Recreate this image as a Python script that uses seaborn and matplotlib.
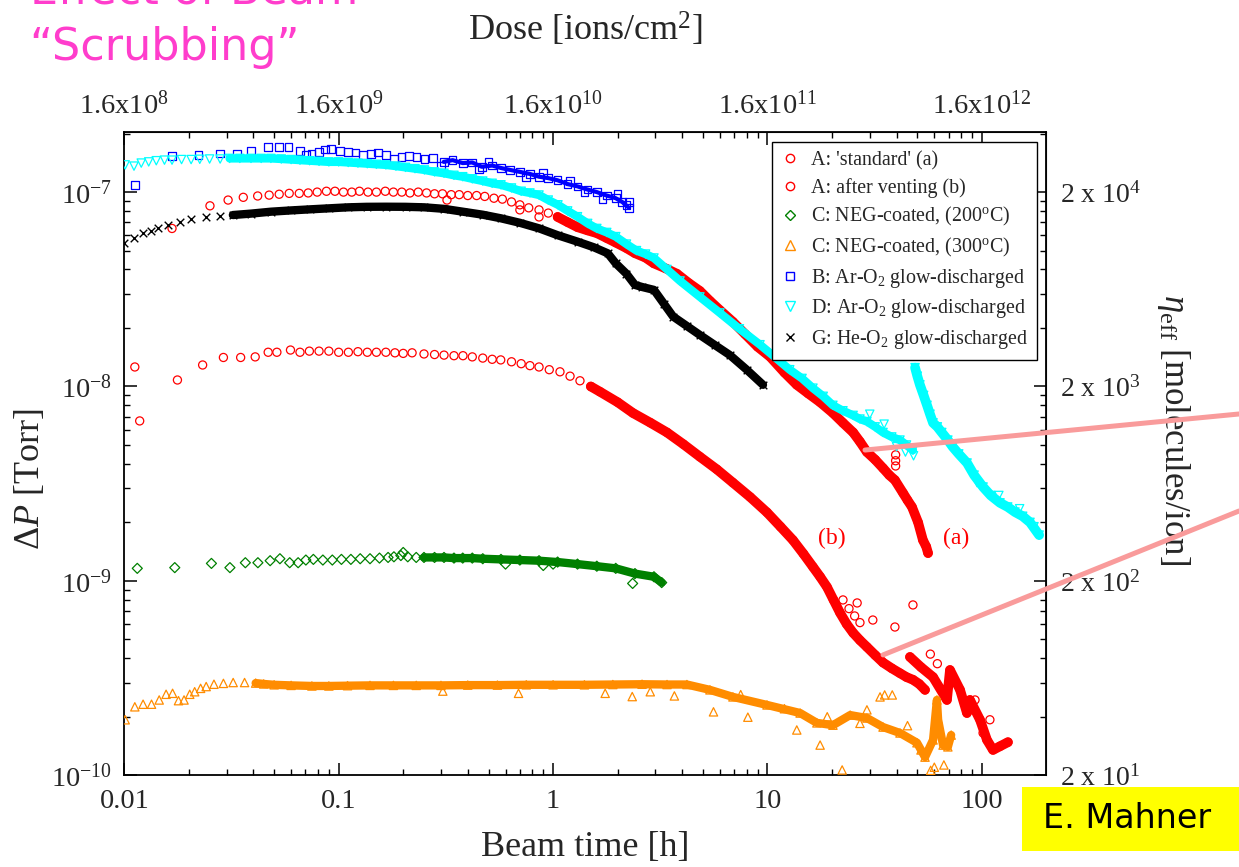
import matplotlib
matplotlib.use("Agg")
import matplotlib.pyplot as plt
import numpy as np
import pandas as pd
import seaborn as sns
from matplotlib.lines import Line2D
from matplotlib.patches import Rectangle
from matplotlib.ticker import FixedLocator, FixedFormatter, NullFormatter

# ---------------------------------------------------------------- data
# A: 'standard' (a)  -- red circles
a_std_t = [0.0167, 0.0251, 0.0305, 0.0359, 0.0419, 0.0474, 0.0528, 0.0588, 0.0655, 0.0721,
           0.0794, 0.0877, 0.0961, 0.1053, 0.1151, 0.125, 0.137, 0.150, 0.165, 0.180,
           0.197, 0.215, 0.235, 0.257, 0.280, 0.305, 0.335, 0.365, 0.40, 0.44,
           0.48, 0.53, 0.58, 0.64, 0.70, 0.77, 0.86, 0.95, 1.05, 1.17,
           1.30, 1.45, 1.60, 1.78, 1.96, 2.2, 2.41, 2.7, 2.95, 3.35,
           3.78, 4.3, 4.84, 5.4, 6.0, 6.9, 7.86, 9.0, 10.3, 12.0,
           13.7, 15.5, 17.6, 20.2, 22.5, 25.1, 27.0, 29.1, 31.8, 34.6,
           37.0, 39.3, 42.9, 45.0, 47.2, 50.4, 53.1, 55.0, 56.1]
a_std_p = [6.5e-8, 8.5e-8, 9.1e-8, 9.4e-8, 9.55e-8, 9.65e-8, 9.75e-8, 9.85e-8, 9.85e-8, 9.9e-8,
           1.0e-7, 1.01e-7, 1.01e-7, 1.0e-7, 1.0e-7, 1.01e-7, 1.0e-7, 1.0e-7, 1.01e-7, 1.0e-7,
           1.0e-7, 9.9e-8, 1.0e-7, 9.9e-8, 9.8e-8, 9.8e-8, 9.7e-8, 9.7e-8, 9.6e-8, 9.6e-8,
           9.5e-8, 9.3e-8, 9.2e-8, 8.9e-8, 8.6e-8, 8.3e-8, 8.1e-8, 7.8e-8, 7.45e-8, 7.0e-8,
           6.6e-8, 6.35e-8, 6.15e-8, 5.8e-8, 5.5e-8, 5.15e-8, 4.85e-8, 4.6e-8, 4.3e-8, 4.05e-8,
           3.8e-8, 3.4e-8, 3.1e-8, 2.75e-8, 2.47e-8, 2.15e-8, 1.86e-8, 1.6e-8, 1.42e-8, 1.18e-8,
           1.02e-8, 9.2e-9, 8.3e-9, 7.3e-9, 6.5e-9, 5.8e-9, 5.2e-9, 4.6e-9, 4.2e-9, 3.8e-9,
           3.5e-9, 3.3e-9, 2.83e-9, 2.6e-9, 2.4e-9, 2.0e-9, 1.62e-9, 1.5e-9, 1.39e-9]
a_std_extra_t = [0.32, 0.70, 0.86, 39.6, 39.6, 39.6]
a_std_extra_p = [9.1e-8, 8.1e-8, 7.45e-8, 4.45e-9, 3.9e-9, 4.15e-9]

# A: after venting (b) -- red circles
a_vent_t = [0.0112, 0.0118, 0.0177, 0.0232, 0.029, 0.0349, 0.0408, 0.0469, 0.0515, 0.0596,
            0.066, 0.073, 0.081, 0.09, 0.10, 0.111, 0.123, 0.136, 0.15, 0.166,
            0.183, 0.2, 0.22, 0.25, 0.28, 0.31, 0.345, 0.38, 0.42, 0.47,
            0.52, 0.57, 0.64, 0.71, 0.78, 0.86, 0.96, 1.077, 1.2, 1.335,
            1.5, 1.654, 2.0, 2.36, 2.85, 3.40, 4.05, 4.84, 5.8, 6.9,
            8.3, 9.95, 11.5, 13.15, 14.7, 16.3, 17.6, 18.95, 20.3, 21.8,
            23.4, 25.1, 27.0, 29.1, 31.8, 34.6, 38.0, 41.5, 44.5, 47.7,
            51.0, 54.3]
a_vent_p = [1.26e-8, 6.65e-9, 1.08e-8, 1.29e-8, 1.41e-8, 1.41e-8, 1.42e-8, 1.5e-8, 1.5e-8, 1.54e-8,
            1.5e-8, 1.52e-8, 1.52e-8, 1.52e-8, 1.5e-8, 1.5e-8, 1.51e-8, 1.5e-8, 1.5e-8, 1.5e-8,
            1.49e-8, 1.48e-8, 1.49e-8, 1.47e-8, 1.46e-8, 1.45e-8, 1.44e-8, 1.44e-8, 1.42e-8, 1.4e-8,
            1.38e-8, 1.37e-8, 1.34e-8, 1.31e-8, 1.28e-8, 1.26e-8, 1.22e-8, 1.19e-8, 1.13e-8, 1.07e-8,
            1.0e-8, 9.4e-9, 8.3e-9, 7.3e-9, 6.5e-9, 5.8e-9, 5.05e-9, 4.35e-9, 3.75e-9, 3.2e-9,
            2.7e-9, 2.25e-9, 1.9e-9, 1.62e-9, 1.38e-9, 1.18e-9, 1.05e-9, 9.3e-10, 8.0e-10, 6.85e-10,
            6.0e-10, 5.4e-10, 4.95e-10, 4.57e-10, 4.15e-10, 3.8e-10, 3.55e-10, 3.35e-10, 3.2e-10, 3.1e-10,
            2.95e-10, 2.75e-10]
a_vent_tail_t = [46.2, 52.0, 59.2, 68.7, 71.0, 79.1, 85.2, 88.0, 98.0, 105.6, 112.7, 121.5, 132.3]
a_vent_tail_p = [4.06e-10, 3.6e-10, 3.2e-10, 2.44e-10, 3.48e-10, 2.75e-10, 2.09e-10, 2.44e-10,
                 1.93e-10, 1.52e-10, 1.35e-10, 1.41e-10, 1.48e-10]
a_vent_extra_t = [47.7, 31.0, 39.3, 26.2, 22.5, 24.0, 25.5, 27.0, 57.5, 62.0, 75.0, 92.9, 101.3, 109.0]
a_vent_extra_p = [7.52e-10, 6.29e-10, 5.79e-10, 7.7e-10, 7.98e-10, 7.2e-10, 6.6e-10, 6.1e-10,
                  4.2e-10, 3.75e-10, 3.0e-10, 2.44e-10, 1.65e-10, 1.93e-10]

# C: NEG-coated (200 C) -- green diamonds
neg200_t = [0.0115, 0.0172, 0.0255, 0.0311, 0.0367, 0.042, 0.0479, 0.0532, 0.0591, 0.0647,
            0.0703, 0.0762, 0.0844, 0.0934, 0.103, 0.114, 0.126, 0.14, 0.155, 0.17,
            0.181, 0.195, 0.21, 0.23, 0.25, 0.28, 0.31, 0.345, 0.379, 0.42,
            0.47, 0.5715, 0.70, 0.86, 1.05, 1.30, 1.6, 1.96, 2.41, 2.955, 3.21]
neg200_p = [1.16e-9, 1.17e-9, 1.23e-9, 1.17e-9, 1.24e-9, 1.24e-9, 1.27e-9, 1.30e-9, 1.24e-9, 1.24e-9,
            1.28e-9, 1.29e-9, 1.28e-9, 1.28e-9, 1.29e-9, 1.29e-9, 1.30e-9, 1.30e-9, 1.31e-9, 1.32e-9,
            1.33e-9, 1.35e-9, 1.33e-9, 1.32e-9, 1.32e-9, 1.32e-9, 1.32e-9, 1.31e-9, 1.31e-9, 1.31e-9,
            1.30e-9, 1.29e-9, 1.28e-9, 1.27e-9, 1.25e-9, 1.22e-9, 1.19e-9, 1.16e-9, 1.09e-9, 1.05e-9, 9.8e-10]
neg200_extra_t = [0.2, 0.6, 0.9, 2.35, 1.0]
neg200_extra_p = [1.4e-9, 1.22e-9, 1.2e-9, 9.7e-10, 1.22e-9]

# C: NEG-coated (300 C) -- orange triangles
neg300_t = [0.0101, 0.0112, 0.01224, 0.0134, 0.01455, 0.01567, 0.0168, 0.0179, 0.019, 0.0202,
            0.0213, 0.0227, 0.0241, 0.0262, 0.029, 0.0322, 0.0364, 0.041, 0.0447, 0.05,
            0.06, 0.075, 0.09, 0.11, 0.14, 0.18, 0.23, 0.3, 0.4, 0.55,
            0.75, 1.0, 1.4, 1.9, 2.6, 3.4, 4.21, 5.39, 6.9, 9.95,
            14.2, 17.0, 20.2, 24.3, 29.1, 34.6, 41.5, 49.8, 54.3, 59.2,
            61.7, 62.5, 65.9, 69.4, 71.9]
neg300_p = [1.93e-10, 2.25e-10, 2.32e-10, 2.32e-10, 2.44e-10, 2.61e-10, 2.64e-10, 2.42e-10, 2.44e-10, 2.61e-10,
            2.69e-10, 2.80e-10, 2.86e-10, 2.94e-10, 2.97e-10, 3.0e-10, 3.0e-10, 2.98e-10, 2.95e-10, 2.92e-10,
            2.90e-10, 2.88e-10, 2.88e-10, 2.89e-10, 2.90e-10, 2.90e-10, 2.90e-10, 2.90e-10, 2.91e-10, 2.91e-10,
            2.92e-10, 2.92e-10, 2.92e-10, 2.93e-10, 2.94e-10, 2.93e-10, 2.93e-10, 2.75e-10, 2.53e-10, 2.30e-10,
            2.09e-10, 1.86e-10, 1.81e-10, 2.04e-10, 1.97e-10, 1.77e-10, 1.65e-10, 1.47e-10, 1.24e-10, 1.52e-10,
            2.44e-10, 1.93e-10, 1.43e-10, 1.40e-10, 1.61e-10]
neg300_extra_t = [0.306, 0.69, 1.75, 2.34, 2.84, 3.68, 33.5, 35.2, 38.2, 29.1, 22.3, 17.6, 13.7,
                  8.1, 5.6, 57.7, 66.5, 60.0, 7.5, 12.0, 19.0, 27.0, 45.0, 52.0]
neg300_extra_p = [2.71e-10, 2.64e-10, 2.64e-10, 2.54e-10, 2.69e-10, 2.56e-10, 2.53e-10, 2.59e-10,
                  2.59e-10, 2.17e-10, 1.065e-10, 1.43e-10, 1.71e-10, 1.99e-10, 2.12e-10, 1.06e-10,
                  1.13e-10, 1.1e-10, 2.6e-10, 2.2e-10, 2.0e-10, 1.85e-10, 1.8e-10, 1.35e-10]

# B: Ar-O2 glow-discharged -- blue squares
argd_b_t = [0.0112, 0.0167, 0.0222, 0.0279, 0.0335, 0.039, 0.0468, 0.0527, 0.0584, 0.066,
            0.0702, 0.0747, 0.0809, 0.0863, 0.0918, 0.1014, 0.1105, 0.1198, 0.130, 0.1415,
            0.153, 0.166, 0.181, 0.196, 0.213, 0.231, 0.251, 0.275, 0.309, 0.34,
            0.379, 0.42, 0.465, 0.52, 0.572, 0.63, 0.701, 0.78, 0.86, 0.95,
            1.05, 1.17, 1.30, 1.45, 1.6, 1.78, 1.96, 2.1, 2.26]
argd_b_p = [1.09e-7, 1.53e-7, 1.55e-7, 1.58e-7, 1.58e-7, 1.63e-7, 1.70e-7, 1.71e-7, 1.70e-7, 1.63e-7,
            1.55e-7, 1.57e-7, 1.61e-7, 1.66e-7, 1.67e-7, 1.63e-7, 1.61e-7, 1.60e-7, 1.55e-7, 1.57e-7,
            1.60e-7, 1.55e-7, 1.49e-7, 1.52e-7, 1.53e-7, 1.52e-7, 1.48e-7, 1.5e-7, 1.43e-7, 1.46e-7,
            1.41e-7, 1.42e-7, 1.35e-7, 1.37e-7, 1.33e-7, 1.30e-7, 1.27e-7, 1.24e-7, 1.20e-7, 1.18e-7,
            1.15e-7, 1.10e-7, 1.07e-7, 1.03e-7, 1.0e-7, 9.6e-8, 9.3e-8, 8.9e-8, 8.3e-8]
argd_b_extra_t = [0.3, 0.5, 0.75, 1.2, 1.7, 2.0, 2.2, 2.26, 0.45, 0.9, 1.4]
argd_b_extra_p = [1.37e-7, 1.43e-7, 1.19e-7, 1.14e-7, 9.2e-8, 9.8e-8, 8.6e-8, 8.9e-8, 1.31e-7, 1.25e-7, 1.0e-7]

# D: Ar-O2 glow-discharged -- cyan triangles
argd_d_t = [0.0101, 0.0111, 0.012, 0.013, 0.0141, 0.0154, 0.0167, 0.0185, 0.0205, 0.0225,
            0.025, 0.028, 0.031, 0.0346, 0.039, 0.0435, 0.0483, 0.054, 0.06, 0.066,
            0.0732, 0.081, 0.09, 0.1, 0.1108, 0.123, 0.136, 0.15, 0.166, 0.185,
            0.205, 0.227, 0.251, 0.28, 0.31, 0.345, 0.379, 0.42, 0.47, 0.52,
            0.5715, 0.64, 0.71, 0.78, 0.86, 0.95, 1.054, 1.17, 1.30, 1.45,
            1.6, 1.78, 1.96, 2.2, 2.45, 2.7, 2.955, 3.4, 3.91, 4.84,
            6.0, 7.4, 9.23, 10.8, 12.7, 14.5, 16.3, 18.2, 20.2, 22.5,
            25.1, 27.0, 29.1, 31.8, 34.6, 38.0, 41.5, 44.5, 47.7]
argd_d_p = [1.38e-7, 1.36e-7, 1.41e-7, 1.43e-7, 1.45e-7, 1.46e-7, 1.46e-7, 1.47e-7, 1.47e-7, 1.475e-7,
            1.48e-7, 1.48e-7, 1.49e-7, 1.49e-7, 1.49e-7, 1.49e-7, 1.49e-7, 1.48e-7, 1.47e-7, 1.46e-7,
            1.45e-7, 1.44e-7, 1.43e-7, 1.43e-7, 1.42e-7, 1.41e-7, 1.40e-7, 1.39e-7, 1.38e-7, 1.36e-7,
            1.34e-7, 1.32e-7, 1.30e-7, 1.27e-7, 1.25e-7, 1.22e-7, 1.20e-7, 1.17e-7, 1.14e-7, 1.11e-7,
            1.09e-7, 1.05e-7, 1.01e-7, 9.9e-8, 9.66e-8, 9.1e-8, 8.6e-8, 8.0e-8, 7.47e-8, 6.9e-8,
            6.5e-8, 6.2e-8, 5.9e-8, 5.4e-8, 5.0e-8, 4.8e-8, 4.58e-8, 4.0e-8, 3.49e-8, 2.89e-8,
            2.39e-8, 1.98e-8, 1.64e-8, 1.42e-8, 1.22e-8, 1.1e-8, 9.8e-9, 8.9e-9, 8.0e-9, 7.5e-9,
            7.1e-9, 6.8e-9, 6.6e-9, 6.2e-9, 5.8e-9, 5.5e-9, 5.3e-9, 5.0e-9, 4.7e-9]
argd_d2_t = [48.8, 50.0, 51.4, 53.5, 55.5, 57.3, 59.2, 62.0, 65.0, 69.4,
             73.0, 78.0, 85.3, 92.0, 101.3, 110.0, 121.5, 132.0, 142.7, 155.0, 167.7, 185.0]
argd_d2_p = [1.25e-8, 1.13e-8, 1.02e-8, 9.0e-9, 8.0e-9, 7.2e-9, 6.5e-9, 6.2e-9, 5.8e-9, 5.3e-9,
             4.9e-9, 4.5e-9, 4.04e-9, 3.5e-9, 3.04e-9, 2.75e-9, 2.52e-9, 2.4e-9, 2.26e-9, 2.15e-9,
             2.0e-9, 1.72e-9]
argd_d_extra_t = [40.0, 44.0, 48.0, 30.0, 35.0, 120.0, 150.0, 175.0, 95.0]
argd_d_extra_p = [4.9e-9, 4.6e-9, 4.4e-9, 7.2e-9, 6.4e-9, 2.75e-9, 2.35e-9, 1.9e-9, 3.2e-9]

# G: He-O2 glow-discharged -- black crosses
hegd_t = [0.01, 0.01105, 0.01223, 0.0133, 0.01443, 0.016, 0.0181, 0.0205, 0.0241, 0.0281,
          0.0321, 0.039, 0.0484, 0.06, 0.0732, 0.09, 0.1108, 0.135, 0.1662, 0.205,
          0.251, 0.31, 0.379, 0.47, 0.5715, 0.70, 0.86, 1.05, 1.30, 1.55,
          1.80, 1.96, 2.2, 2.41, 2.6, 2.955, 3.3, 3.63, 4.2, 4.84,
          5.7, 6.68, 8.0, 9.53]
hegd_p = [5.45e-8, 5.78e-8, 6.14e-8, 6.33e-8, 6.51e-8, 6.77e-8, 7.04e-8, 7.25e-8, 7.42e-8, 7.5e-8,
          7.62e-8, 7.75e-8, 7.93e-8, 8.05e-8, 8.15e-8, 8.25e-8, 8.35e-8, 8.4e-8, 8.41e-8, 8.4e-8,
          8.35e-8, 8.2e-8, 7.93e-8, 7.65e-8, 7.33e-8, 6.95e-8, 6.51e-8, 6.0e-8, 5.56e-8, 5.2e-8,
          4.84e-8, 4.3e-8, 3.8e-8, 3.33e-8, 3.25e-8, 3.14e-8, 2.65e-8, 2.29e-8, 2.05e-8, 1.84e-8,
          1.63e-8, 1.45e-8, 1.22e-8, 1.02e-8]

legend_labels = ["A: 'standard' (a)", "A: after venting (b)",
                 "C: NEG-coated, (200$^{\\mathrm{o}}$C)", "C: NEG-coated, (300$^{\\mathrm{o}}$C)",
                 "B: Ar-O$_{2}$ glow-discharged", "D: Ar-O$_{2}$ glow-discharged",
                 "G: He-O$_{2}$ glow-discharged"]

bottom_ticks = [0.01, 0.1, 1, 10, 100]
bottom_tick_labels = ["0.01", "0.1", "1", "10", "100"]
dose_per_hour = 1.6e10
top_tick_labels = ["1.6x10$^{8}$", "1.6x10$^{9}$", "1.6x10$^{10}$", "1.6x10$^{11}$", "1.6x10$^{12}$"]
left_ticks = [1e-10, 1e-9, 1e-8, 1e-7]
left_tick_labels = ["10$^{-10}$", "10$^{-9}$", "10$^{-8}$", "10$^{-7}$"]
eta_per_torr = 2e11
right_ticks = [2e1, 2e2, 2e3, 2e4]
right_tick_labels = ["2 x 10$^{1}$", "2 x 10$^{2}$", "2 x 10$^{3}$", "2 x 10$^{4}$"]

x_limits = (0.01, 198.5)
y_limits = (1e-10, 2.045e-7)

# annotation pointer targets (data coords) and the figure-edge heights they run to
pointer_targets = [(28.5, 4.71e-9), (34.6, 4.16e-10)]
pointer_edge_y = [0.5225, 0.4106]
label_a_pos = (75.7, 1.66e-9)
label_b_pos = (20.0, 1.66e-9)

# ---------------------------------------------------------------- style
sns.set_style("ticks")
plt.rcParams["font.family"] = ["Liberation Serif", "DejaVu Serif"]
plt.rcParams["mathtext.fontset"] = "custom"
plt.rcParams["mathtext.rm"] = "Liberation Serif"
plt.rcParams["mathtext.it"] = "Liberation Serif:italic"
plt.rcParams["mathtext.bf"] = "Liberation Serif:bold"

RED, GREEN, ORANGE, BLUE, CYAN, BLACK = "#ff0000", "#008000", "#ff8c00", "#0000ff", "#00ffff", "#000000"

fig = plt.figure(figsize=(12.39, 8.67), dpi=100)
ax = fig.add_axes([0.1003, 0.1058, 0.7437, 0.7423])
ax.set_xscale("log")
ax.set_yscale("log")


def draw(t, p, color, marker, band_from=None, lw=5.0, s=34, z=2):
    t = np.asarray(t, float)
    p = np.asarray(p, float)
    if band_from is not None:
        m = t >= band_from
        sns.lineplot(x=t[m], y=p[m], ax=ax, color=color, linewidth=lw, estimator=None,
                     sort=False, legend=False, zorder=z, solid_capstyle="round",
                     solid_joinstyle="round")
    if marker == "x":
        sns.scatterplot(x=t, y=p, ax=ax, marker="x", s=s, color=color, linewidth=1.0,
                        legend=False, zorder=z + 0.5)
    else:
        sns.scatterplot(x=t, y=p, ax=ax, marker=marker, s=s, color=color, facecolor="none",
                        edgecolor=color, linewidth=0.9, legend=False, zorder=z + 0.5)


draw(a_std_t, a_std_p, RED, "o", band_from=1.0, lw=7.0, z=2)
draw(a_std_extra_t, a_std_extra_p, RED, "o", z=2)
draw(a_vent_t, a_vent_p, RED, "o", band_from=1.5, lw=7.0, z=2)
draw(a_vent_tail_t, a_vent_tail_p, RED, "o", band_from=0, lw=7.0, z=2)
draw(a_vent_extra_t, a_vent_extra_p, RED, "o", z=2)
draw(neg200_t, neg200_p, GREEN, "D", band_from=0.25, lw=6.0, s=26, z=3)
draw(neg200_extra_t, neg200_extra_p, GREEN, "D", s=26, z=3)
draw(neg300_t, neg300_p, ORANGE, "^", band_from=0.04, lw=6.0, s=36, z=3)
draw(neg300_extra_t, neg300_extra_p, ORANGE, "^", s=36, z=3)
draw(argd_b_t, argd_b_p, BLUE, "s", band_from=0.3, lw=3.0, s=30, z=4)
draw(argd_b_extra_t, argd_b_extra_p, BLUE, "s", s=30, z=4)
draw(argd_d_t, argd_d_p, CYAN, "v", band_from=0.03, lw=6.0, s=36, z=5)
draw(argd_d2_t, argd_d2_p, CYAN, "v", band_from=0, lw=7.0, s=36, z=5)
draw(argd_d_extra_t, argd_d_extra_p, CYAN, "v", s=36, z=5)
draw(hegd_t, hegd_p, BLACK, "x", band_from=0.03, lw=6.0, s=30, z=6)

ax.set_xlim(*x_limits)
ax.set_ylim(*y_limits)

# bottom / left axis
ax.xaxis.set_major_locator(FixedLocator(bottom_ticks))
ax.xaxis.set_major_formatter(FixedFormatter(bottom_tick_labels))
ax.xaxis.set_minor_locator(FixedLocator([m * 10.0 ** k for k in range(-2, 3) for m in range(2, 10)]))
ax.xaxis.set_minor_formatter(NullFormatter())
ax.yaxis.set_major_locator(FixedLocator(left_ticks))
ax.yaxis.set_major_formatter(FixedFormatter(left_tick_labels))
ax.yaxis.set_minor_locator(FixedLocator([m * 10.0 ** k for k in range(-10, -6) for m in range(2, 10)]))
ax.yaxis.set_minor_formatter(NullFormatter())
ax.tick_params(axis="both", which="both", direction="in", top=False, right=False, color="black")
ax.tick_params(axis="both", which="major", length=9, width=1.1, labelsize=20.5)
ax.tick_params(axis="both", which="minor", length=4.5, width=1.0)
ax.tick_params(axis="x", which="major", pad=10)
ax.tick_params(axis="y", which="major", pad=9)
for sp in ax.spines.values():
    sp.set_visible(True)
    sp.set_color("black")
    sp.set_linewidth(1.3)

ax.set_xlabel("Beam time [h]", fontsize=26)
ax.xaxis.set_label_coords(0.5, -0.113)
ax.xaxis.label.set_va("center")
ax.set_ylabel("$\\Delta P$ [Torr]", fontsize=26)
ax.yaxis.set_label_coords(-0.1023, 0.4604)
ax.yaxis.label.set_va("center")

# top axis: dose
secx = ax.secondary_xaxis("top", functions=(lambda t: t * dose_per_hour, lambda d: d / dose_per_hour))
secx.xaxis.set_major_locator(FixedLocator([b * dose_per_hour for b in bottom_ticks]))
secx.xaxis.set_major_formatter(FixedFormatter(top_tick_labels))
secx.xaxis.set_minor_locator(FixedLocator([m * 10.0 ** k * dose_per_hour for k in range(-2, 3) for m in range(2, 10)]))
secx.xaxis.set_minor_formatter(NullFormatter())
secx.tick_params(axis="x", which="both", direction="in", color="black")
secx.tick_params(axis="x", which="major", length=9, width=1.1, labelsize=20.5, pad=9)
secx.tick_params(axis="x", which="minor", length=4.5, width=1.0)
secx.set_xlabel("Dose [ions/cm$^{2}$]", fontsize=26)
secx.xaxis.set_label_coords(0.5, 1.158, transform=ax.transAxes)
secx.xaxis.label.set_va("center")

# right axis: eta_eff
secy = ax.secondary_yaxis("right", functions=(lambda p: p * eta_per_torr, lambda e: e / eta_per_torr))
secy.yaxis.set_major_locator(FixedLocator(right_ticks))
secy.yaxis.set_major_formatter(FixedFormatter(right_tick_labels))
secy.yaxis.set_minor_locator(FixedLocator([2 * 10.0 ** k * m for k in range(1, 5) for m in range(2, 10)]))
secy.yaxis.set_minor_formatter(NullFormatter())
secy.tick_params(axis="y", which="both", direction="in", color="black")
secy.tick_params(axis="y", which="major", length=9, width=1.1, labelsize=20, pad=10)
secy.tick_params(axis="y", which="minor", length=4.5, width=1.0)
secy.set_ylabel("$\\eta_{\\mathrm{eff}}$ [molecules/ion]", fontsize=25, rotation=270)
secy.yaxis.set_label_coords(1.1382, 0.5365, transform=ax.transAxes)
secy.yaxis.label.set_va("center")
secy.yaxis.label.set_ha("center")

# legend
markers = ["o", "o", "D", "^", "s", "v", "x"]
colors = [RED, RED, GREEN, ORANGE, BLUE, CYAN, BLACK]
sizes = [6, 6, 5, 6.5, 5.5, 6.5, 6]
handles = [Line2D([], [], ls="none", marker=mk, ms=sz, mfc="none", mec=c, mew=1.0)
           for mk, c, sz in zip(markers, colors, sizes)]
leg = ax.legend(handles, legend_labels, loc="upper right", bbox_to_anchor=(0.9906, 0.984),
                borderaxespad=0, fontsize=14.4, frameon=True, fancybox=False, framealpha=1,
                edgecolor="black", handlelength=0.9, handletextpad=0.6, labelspacing=0.38,
                borderpad=0.45)
leg.get_frame().set_linewidth(1.0)
leg.set_zorder(20)

# (a) / (b) labels
ax.text(*label_b_pos, "(b)", color=RED, fontsize=17, ha="center", va="center", zorder=21)
ax.text(*label_a_pos, "(a)", color=RED, fontsize=17, ha="center", va="center", zorder=21)

# pink pointer lines running off the slide edge
for (tx, py), ey in zip(pointer_targets, pointer_edge_y):
    ax.annotate("", xy=(tx, py), xycoords="data", xytext=(1.0, ey), textcoords="figure fraction",
                arrowprops=dict(arrowstyle="-", color="#f99b9b", lw=3.6, shrinkA=0, shrinkB=0),
                annotation_clip=False, zorder=30)

# slide decorations
fig.text(0.024, 1 - 3 / 867, "Effect of Beam", fontsize=32, color="#ff3dcc",
         family=["DejaVu Sans"], va="baseline", ha="left")
fig.text(0.024, 1 - 60 / 867, "\u201cScrubbing\u201d", fontsize=32, color="#ff3dcc",
         family=["DejaVu Sans"], va="baseline", ha="left")
fig.add_artist(Rectangle((1022 / 1239, 1 - 851 / 867), (1239 - 1022) / 1239, 64 / 867,
                         transform=fig.transFigure, facecolor="#ffff00", edgecolor="none", zorder=1))
fig.text(1127 / 1239, 1 - 819 / 867, "E. Mahner", fontsize=24, color="black",
         family=["DejaVu Sans"], va="center", ha="center", zorder=2)

fig.savefig("out.png", dpi=100, facecolor="white")
